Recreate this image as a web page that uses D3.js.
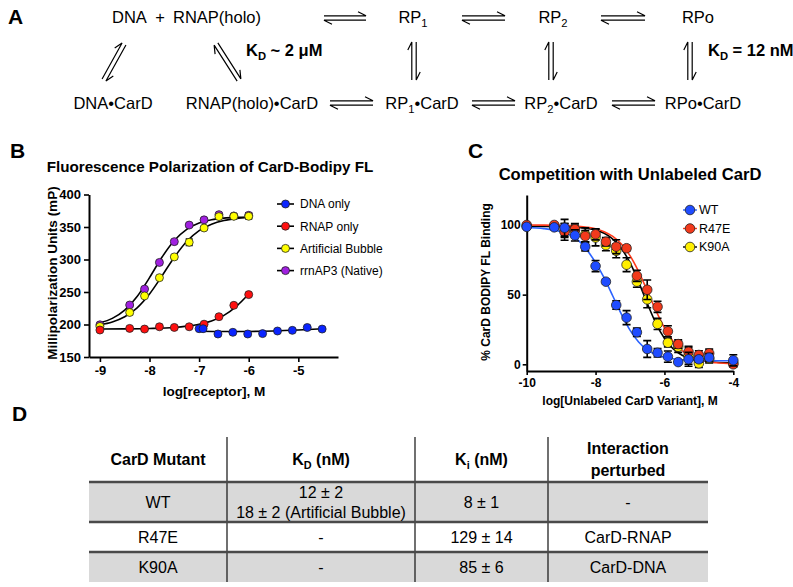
<!DOCTYPE html>
<html><head><meta charset="utf-8">
<script src="https://d3js.org/d3.v7.min.js"></script>
<style>
body{margin:0;background:#fff}
svg text, svg tspan{font-family:"Liberation Sans",Arial,Helvetica,sans-serif;fill:#000}
</style></head>
<body><svg id="c" width="793" height="587"></svg>
<script>
// ---------------- DATA ----------------
// Panel B: fluorescence polarization (log[receptor], M vs mP)
const bLogDNA  = [-7.0, -6.92, -6.62, -6.32, -6.02, -5.72, -5.42, -5.12, -4.82, -4.52];
const bDNA     = [193.5, 193.5, 185.4, 188, 185.4, 186, 190, 191, 195.4, 193];
const bLogRNAP = [-9.0, -8.4, -8.1, -7.8, -7.5, -7.2, -6.9, -6.6, -6.3, -6.0];
const bRNAP    = [191.5, 194, 193, 196.5, 195.5, 196.5, 200.5, 212, 229.5, 246];
const bLogDNAc = [-9.0, -8.4, -8.1, -7.8, -7.5, -7.2, -6.9, -6.6, -6.3, -6.0];
const bBubble  = [197, 218.5, 244, 272, 304, 326.5, 348.5, 366, 366.5, 366.5];
const bBubbleErr = [2, 3, 2, 2, 2, 5, 2, 2, 2, 4];
const bNative  = [199.5, 230, 254.5, 295.5, 327.5, 353, 361, 369, 367, 368];
const bNativeErr = [2, 2, 2, 2, 2, 2, 2, 2, 2, 4];
// fitted curves
const bFitLog    = [-9, -8.75, -8.5, -8.25, -8, -7.75, -7.5, -7.25, -7, -6.75, -6.5, -6.25, -6];
const bFitNative = [202.6, 209.4, 222.1, 243.1, 272.1, 303.4, 329.2, 346.4, 356.1, 361.2, 363.7, 364.9, 365.5];
const bFitBubble = [199.6, 203.9, 211.9, 225.7, 247, 274.6, 303.5, 327.7, 344.4, 354.4, 360, 362.9, 364.5];
const bFitRNAPLog = [-9, -8.5, -8, -7.5, -7.25, -7, -6.75, -6.5, -6.25, -6];
const bFitRNAP    = [193, 193.2, 193.8, 195.5, 197.5, 200.5, 205.5, 214, 228, 247];
const bFitDNALog  = [-7, -6.5, -6, -5.5, -5, -4.5];
const bFitDNA     = [189.5, 189.2, 189.3, 190, 191.5, 193.5];
const bSeriesNames = ["DNA only", "RNAP only", "Artificial Bubble", "rrnAP3 (Native)"];
const bXTicks = [-9, -8, -7, -6, -5];
const bYTicks = [150, 200, 250, 300, 350, 400];

// Panel C: competition (log[unlabeled CarD], M vs % binding)
const cLog   = [-10, -9.2, -8.9, -8.6, -8.3, -8.0, -7.7, -7.4, -7.1, -6.8, -6.5, -6.2, -5.9, -5.6, -5.3, -5.0, -4.7, -4.0];
const cWT    = [98.7, 98.3, 98, 92.5, 84.4, 70.5, 59.3, 42.5, 33.5, 23, 11, 8.3, 5.5, 1.6, 3.6, 3.6, 4.8, 2.9];
const cWTErr = [1, 1.5, 6, 4, 3, 4, 1.5, 3, 5, 3, 6, 3, 4, 1, 5, 2, 3, 4];
const cR47E  = [100, 100, 95, 97, 92, 93.3, 88, 84.4, 83.3, 63.5, 53.5, 41.3, 23.7, 14.5, 9, 6.7, 7.9, 0];
const cR47EErr = [1, 1, 6, 4, 4, 4, 3, 5, 2, 4, 7, 4, 4, 3, 4, 3, 3, 2];
const cK90A  = [99, 99, 96, 96, 93, 91, 85.5, 81.5, 71.5, 59.3, 46.6, 29, 15.5, 12.6, 6, 0.7, 4, 1];
const cK90AErr = [1, 1, 5, 4, 5, 6, 4, 5, 5, 4, 6, 4, 3, 4, 6, 3, 3, 2];
const cFitLog  = [-10, -9.5, -9, -8.75, -8.5, -8.25, -8, -7.75, -7.5, -7.25, -7, -6.75, -6.5, -6.25, -6, -5.75, -5.5, -5.25, -5, -4.5, -4];
const cFitWT   = [98.2, 97.4, 95.2, 93, 89, 82, 73, 62, 49, 36, 24.5, 16, 10.4, 7, 5, 4, 3.3, 3, 2.8, 2.6, 2.5];
const cFitR47E = [99.97, 99.9, 99.7, 99.5, 99.1, 98.4, 97.3, 95.2, 91.8, 86.3, 78, 66.6, 52.9, 38.7, 26.2, 16.6, 10.1, 5.9, 3.4, 1.1, 0.35];
const cFitK90A = [99, 98.95, 98.8, 98.6, 98.2, 97.5, 96.3, 94, 89.9, 83.1, 72.9, 59.2, 43.8, 29.6, 18.6, 11.2, 6.7, 4.1, 2.7, 1.5, 1.1];
const cSeriesNames = ["WT", "R47E", "K90A"];
const cXTicks = [-10, -8, -6, -4];
const cYTicks = [0, 50, 100];

// Panel D: table
const tMutants = ["WT", "R47E", "K90A"];
const tKD = [["12 ± 2", "18 ± 2 (Artificial Bubble)"], ["-"], ["-"]];
const tKi = ["8 ± 1", "129 ± 14", "85 ± 6"];
const tInteraction = ["-", "CarD-RNAP", "CarD-DNA"];

// ---------------- DRAW ----------------
const svg = d3.select("#c");
const line = (xs, ys, fx, fy) => d3.line().x(d => fx(d[0])).y(d => fy(d[1])).curve(d3.curveMonotoneX)(d3.zip(xs, ys));

function panelLetter(t, x, y){
  svg.append("text").attr("x", x).attr("y", y).attr("font-size", 21).attr("font-weight", "bold").text(t);
}
function rich(g, x, y, parts, size, weight, anchor){
  const t = g.append("text").attr("x", x).attr("y", y).attr("font-size", size)
    .attr("font-weight", weight || "normal").attr("text-anchor", anchor || "start").attr("fill", "#000");
  let shifted = false;
  parts.forEach(p => {
    const ts = t.append("tspan").attr("fill", "#000").text(p.t);
    if (p.sub) { ts.attr("dy", 4).attr("font-size", size * 0.68); shifted = true; }
    else if (shifted) { ts.attr("dy", -4); shifted = false; }
  });
  return t;
}

// ===== Panel A =====
panelLetter("A", 8, 24);
const gA = svg.append("g");
const fA = 16.5;
rich(gA, 112, 23, [{t:"DNA"}], fA);
rich(gA, 160, 23, [{t:"+"}], fA, "normal", "middle");
rich(gA, 173, 23, [{t:"RNAP(holo)"}], fA);
rich(gA, 413, 23, [{t:"RP"},{t:"1",sub:true}], fA, "normal", "middle");
rich(gA, 553, 23, [{t:"RP"},{t:"2",sub:true}], fA, "normal", "middle");
rich(gA, 698, 23, [{t:"RPo"}], fA, "normal", "middle");
rich(gA, 113, 109, [{t:"DNA•CarD"}], fA, "normal", "middle");
rich(gA, 252, 109, [{t:"RNAP(holo)•CarD"}], fA, "normal", "middle");
rich(gA, 422, 109, [{t:"RP"},{t:"1",sub:true},{t:"•CarD"}], fA, "normal", "middle");
rich(gA, 561, 109, [{t:"RP"},{t:"2",sub:true},{t:"•CarD"}], fA, "normal", "middle");
rich(gA, 703, 109, [{t:"RPo•CarD"}], fA, "normal", "middle");
rich(gA, 246, 56, [{t:"K"},{t:"D",sub:true},{t:" ~ 2 μM"}], 16.5, "bold");
rich(gA, 708, 56, [{t:"K"},{t:"D",sub:true},{t:" = 12 nM"}], 16.5, "bold");

function harpoons(x1, y1, x2, y2){
  const L = Math.hypot(x2-x1, y2-y1), ux = (x2-x1)/L, uy = (y2-y1)/L;
  const nx = -uy, ny = ux, g = 2.2, bl = 8, bw = 4;
  const p = d3.path();
  let ax = x1 - nx*g, ay = y1 - ny*g, bx = x2 - nx*g, by = y2 - ny*g;
  p.moveTo(ax, ay); p.lineTo(bx, by); p.lineTo(bx - ux*bl - nx*bw, by - uy*bl - ny*bw);
  ax = x1 + nx*g; ay = y1 + ny*g; bx = x2 + nx*g; by = y2 + ny*g;
  p.moveTo(bx, by); p.lineTo(ax, ay); p.lineTo(ax + ux*bl + nx*bw, ay + uy*bl + ny*bw);
  gA.append("path").attr("d", p.toString()).attr("fill", "none").attr("stroke", "#000").attr("stroke-width", 1.2);
}
harpoons(324, 18, 366, 18);
harpoons(462, 18, 505, 18);
harpoons(601, 18, 645, 18);
harpoons(330, 103, 373, 103);
harpoons(472, 103, 515, 103);
harpoons(612, 103, 655, 103);
harpoons(414, 80, 414, 42);
harpoons(551, 80, 551, 42);
harpoons(690, 80, 690, 42);
harpoons(104, 80, 124, 44);
harpoons(239, 80, 216, 44);

// ===== Panel B =====
panelLetter("B", 10, 158);
svg.append("text").attr("x", 210).attr("y", 172).attr("text-anchor", "middle")
  .attr("font-size", 15.2).attr("font-weight", "bold").text("Fluorescence Polarization of CarD-Bodipy FL");
const xB = d3.scaleLinear().domain([-9.22, -4.2]).range([89, 338]);
const yB = d3.scaleLinear().domain([150, 400]).range([357, 194.5]);
const gB = svg.append("g");
function styleAxis(g, size){
  g.selectAll("path.domain").attr("stroke-width", 2);
  g.selectAll(".tick line").attr("stroke-width", 1.6);
  g.selectAll(".tick text").attr("font-size", size).attr("font-weight", "bold")
    .attr("font-family", "'Liberation Sans',Arial,sans-serif");
}
const axBx = gB.append("g").attr("transform", "translate(0,357)")
  .call(d3.axisBottom(xB).tickValues(bXTicks).tickSize(5).tickSizeOuter(0).tickPadding(4).tickFormat(d => String(d)));
styleAxis(axBx, 13);
const axBy = gB.append("g").attr("transform", "translate(89,0)")
  .call(d3.axisLeft(yB).tickValues(bYTicks).tickSize(5).tickSizeOuter(0).tickPadding(3).tickFormat(d => String(d)));
styleAxis(axBy, 13);
gB.append("text").attr("x", 214).attr("y", 396).attr("text-anchor", "middle")
  .attr("font-size", 13.6).attr("font-weight", "bold").text("log[receptor], M");
gB.append("text").attr("transform", "translate(57,273) rotate(-90)").attr("text-anchor", "middle")
  .attr("font-size", 13.5).attr("font-weight", "bold").text("Millipolarization Units (mP)");

const bColors = ["#0a24ff", "#ff1010", "#ffff00", "#a020e0"];
[[bFitDNALog, bFitDNA], [bFitRNAPLog, bFitRNAP], [bFitLog, bFitBubble], [bFitLog, bFitNative]].forEach(([xs, ys]) => {
  gB.append("path").attr("d", line(xs, ys, xB, yB)).attr("fill", "none").attr("stroke", "#000").attr("stroke-width", 1.6);
});
function errBars(g, xs, ys, es, fx, fy, cap){
  xs.forEach((x, i) => {
    const px = fx(x), y1 = fy(ys[i] - es[i]), y2 = fy(ys[i] + es[i]);
    g.append("path").attr("d", `M${px},${y1}V${y2}M${px-cap},${y1}H${px+cap}M${px-cap},${y2}H${px+cap}`)
      .attr("stroke", "#000").attr("stroke-width", 1.6).attr("fill", "none");
  });
}
function dots(g, xs, ys, fx, fy, r, color){
  g.selectAll(null).data(d3.zip(xs, ys)).enter().append("circle")
    .attr("cx", d => fx(d[0])).attr("cy", d => fy(d[1])).attr("r", r)
    .attr("fill", color).attr("stroke", "#222").attr("stroke-width", 0.8);
}
errBars(gB, bLogDNAc, bBubble, bBubbleErr, xB, yB, 3.5);
errBars(gB, bLogDNAc, bNative, bNativeErr, xB, yB, 3.5);
dots(gB, bLogDNAc, bNative, xB, yB, 4, bColors[3]);
dots(gB, bLogDNAc, bBubble, xB, yB, 4, bColors[2]);
dots(gB, bLogRNAP, bRNAP, xB, yB, 4, bColors[1]);
dots(gB, bLogDNA, bDNA, xB, yB, 4, bColors[0]);
const lgB = gB.append("g");
bSeriesNames.forEach((n, i) => {
  const y = 204 + i * 22.2;
  lgB.append("line").attr("x1", 277).attr("x2", 294).attr("y1", y).attr("y2", y).attr("stroke", "#000").attr("stroke-width", 1.6);
  lgB.append("circle").attr("cx", 285.5).attr("cy", y).attr("r", 4).attr("fill", bColors[i]).attr("stroke", "#222").attr("stroke-width", 0.8);
  lgB.append("text").attr("x", 300).attr("y", y + 4.3).attr("font-size", 12).text(n);
});

// ===== Panel C =====
panelLetter("C", 468, 158);
svg.append("text").attr("x", 630).attr("y", 180).attr("text-anchor", "middle")
  .attr("font-size", 16.6).attr("font-weight", "bold").text("Competition with Unlabeled CarD");
const xC = d3.scaleLinear().domain([-10, -4]).range([526.7, 733.3]);
const yC = d3.scaleLinear().domain([-4.8, 121.5]).range([371, 195]);
const gC = svg.append("g");
const axCx = gC.append("g").attr("transform", "translate(0,371)")
  .call(d3.axisBottom(xC).tickValues(cXTicks).tickSize(4).tickSizeOuter(0).tickPadding(3).tickFormat(d => String(d)));
styleAxis(axCx, 12);
const axCy = gC.append("g").attr("transform", "translate(526.7,0)")
  .call(d3.axisLeft(yC).tickValues(cYTicks).tickSize(4).tickSizeOuter(0).tickPadding(2).tickFormat(d => String(d)));
styleAxis(axCy, 12);
gC.append("text").attr("x", 630).attr("y", 405).attr("text-anchor", "middle")
  .attr("font-size", 12).attr("font-weight", "bold").text("log[Unlabeled CarD Variant], M");
gC.append("text").attr("transform", "translate(490,282) rotate(-90)").attr("text-anchor", "middle")
  .attr("font-size", 12).attr("font-weight", "bold").text("%  CarD BODIPY FL Binding");
const cColors = ["#1f4cff", "#f23a1c", "#ffef00"];
const cLineColors = ["#2a62ff", "#ff3a1a", "#000"];
gC.append("path").attr("d", line(cFitLog, cFitK90A, xC, yC)).attr("fill", "none").attr("stroke", cLineColors[2]).attr("stroke-width", 1.6);
gC.append("path").attr("d", line(cFitLog, cFitR47E, xC, yC)).attr("fill", "none").attr("stroke", cLineColors[1]).attr("stroke-width", 1.6);
gC.append("path").attr("d", line(cFitLog, cFitWT, xC, yC)).attr("fill", "none").attr("stroke", cLineColors[0]).attr("stroke-width", 1.6);
errBars(gC, cLog, cK90A, cK90AErr, xC, yC, 4);
dots(gC, cLog, cK90A, xC, yC, 4.8, cColors[2]);
errBars(gC, cLog, cR47E, cR47EErr, xC, yC, 4);
dots(gC, cLog, cR47E, xC, yC, 4.8, cColors[1]);
errBars(gC, cLog, cWT, cWTErr, xC, yC, 4);
dots(gC, cLog, cWT, xC, yC, 4.8, cColors[0]);
cSeriesNames.forEach((n, i) => {
  const y = 210 + i * 18.5;
  gC.append("line").attr("x1", 683).attr("x2", 697).attr("y1", y).attr("y2", y).attr("stroke", cLineColors[i]).attr("stroke-width", 1.4);
  gC.append("circle").attr("cx", 690).attr("cy", y).attr("r", 4.8).attr("fill", cColors[i]).attr("stroke", "#222").attr("stroke-width", 0.8);
  gC.append("text").attr("x", 699).attr("y", y + 4.3).attr("font-size", 12.5).text(n);
});

// ===== Panel D =====
panelLetter("D", 12, 421);
const gD = svg.append("g");
const colEdges = [89, 227, 415, 548, 708];
const rowEdges = [482, 522, 552, 582];
const colMid = i => (colEdges[i] + colEdges[i+1]) / 2;
[0, 2].forEach(r => gD.append("rect").attr("x", colEdges[0]).attr("y", rowEdges[r]).attr("width", colEdges[4] - colEdges[0])
  .attr("height", rowEdges[r+1] - rowEdges[r]).attr("fill", "#d9d9d9"));
[1, 2, 3].forEach(c => gD.append("line").attr("x1", colEdges[c]).attr("x2", colEdges[c]).attr("y1", 437).attr("y2", 582)
  .attr("stroke", "#111").attr("stroke-width", 1.2));
rowEdges.slice(0, 3).forEach(y => gD.append("line").attr("x1", colEdges[0]).attr("x2", colEdges[4]).attr("y1", y).attr("y2", y)
  .attr("stroke", "#4a4a4a").attr("stroke-width", 2.4));
rich(gD, colMid(0), 465, [{t:"CarD Mutant"}], 16, "bold", "middle");
rich(gD, colMid(1), 465, [{t:"K"},{t:"D",sub:true},{t:" (nM)"}], 16, "bold", "middle");
rich(gD, colMid(2), 465, [{t:"K"},{t:"i",sub:true},{t:" (nM)"}], 16, "bold", "middle");
rich(gD, colMid(3), 454, [{t:"Interaction"}], 16, "bold", "middle");
rich(gD, colMid(3), 476, [{t:"perturbed"}], 16, "bold", "middle");
tMutants.forEach((m, r) => {
  const cy = (rowEdges[r] + rowEdges[r+1]) / 2 + 5.5;
  rich(gD, colMid(0), cy, [{t:m}], 16, "normal", "middle");
  if (tKD[r].length === 2) {
    rich(gD, colMid(1), cy - 10, [{t:tKD[r][0]}], 16, "normal", "middle");
    rich(gD, colMid(1), cy + 10, [{t:tKD[r][1]}], 16, "normal", "middle");
  } else rich(gD, colMid(1), cy, [{t:tKD[r][0]}], 16, "normal", "middle");
  rich(gD, colMid(2), cy, [{t:tKi[r]}], 16, "normal", "middle");
  rich(gD, colMid(3), cy, [{t:tInteraction[r]}], 16, "normal", "middle");
});
</script></body></html>
